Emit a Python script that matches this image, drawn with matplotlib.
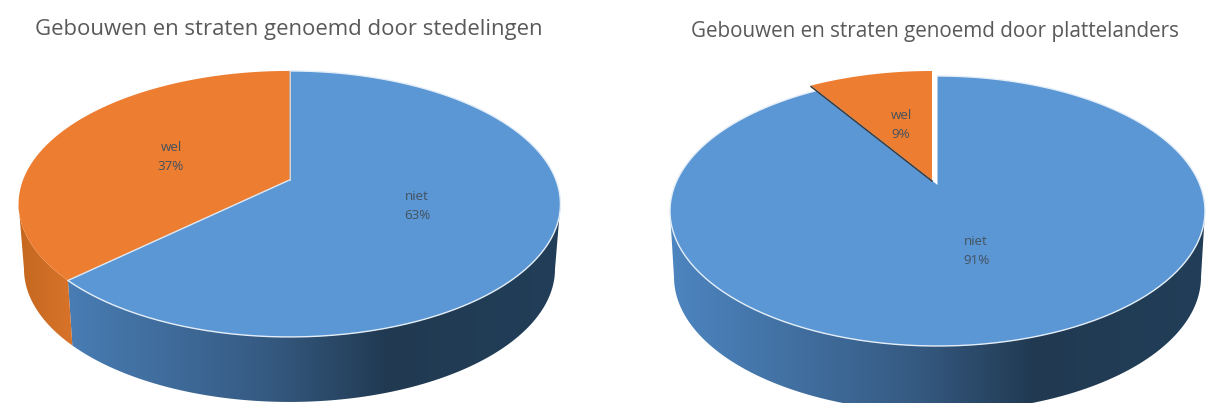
import numpy as np
import matplotlib
matplotlib.use('Agg')
import matplotlib.pyplot as plt
from matplotlib.colors import LinearSegmentedColormap
from matplotlib.patches import Polygon

# data
categories = ['niet', 'wel']
stad_values = [63, 37]
platteland_values = [91, 9]
stad_title = 'Gebouwen en straten genoemd door stedelingen'
platteland_title = 'Gebouwen en straten genoemd door plattelanders'

BLUE = '#5b97d5'
ORANGE = '#ed7d31'
TEXT = '#595959'
LABEL = '#44525f'

plt.rcParams['font.family'] = ['Open Sans', 'DejaVu Sans']

blue_wall = LinearSegmentedColormap.from_list(
    'blue_wall', [(0, '#4d85c0'), (0.45, '#365b83'), (0.68, '#213a52'), (1, '#223e58')])
orange_wall = LinearSegmentedColormap.from_list(
    'orange_wall', [(0, '#c4671f'), (1, '#d9742a')])


def project(t, cx, cy, a, b, k):
    # t in degrees, clockwise from the top of the pie; perspective tilt k
    u = np.sin(np.radians(t))
    v = np.cos(np.radians(t))
    w = 1 + k * v
    return cx + a * u / w, cy - b * v / w


def wall(ax, t0, t1, cmap, cx, cy, a, b, k, depth, shrink):
    t = np.linspace(t0, t1, 120)
    x_top, y_top = project(t, cx, cy, a, b, k)
    x_low, y_low = project(t, cx, cy + depth, a * shrink, b, k)
    pts = np.column_stack([np.r_[x_top, x_low[::-1]], np.r_[y_top, y_low[::-1]]])
    clip = Polygon(pts, transform=ax.transData)
    # horizontal gradient over the whole width of the pie
    grad = np.linspace(0, 1, 256).reshape(1, -1)
    half = a / np.sqrt(1 - k ** 2)
    if cmap is orange_wall:
        extent = [x_top.min() - 3, x_low.max() + 3, 410, 0]
    else:
        extent = [cx - half, cx + half, 410, 0]
    im = ax.imshow(grad, extent=extent, aspect='auto', cmap=cmap, zorder=1)
    im.set_clip_path(clip)


def draw_pie(ax, values, cx, cy, a, b, k, depth, shrink, offset=(0, 0)):
    edge = np.degrees(np.arccos(-k))
    split = values[0] / sum(values) * 360

    # side of the pie, only the front part can be seen
    if split > 360 - edge:
        wall(ax, edge, 360 - edge, blue_wall, cx, cy, a, b, k, depth, shrink)
    else:
        wall(ax, edge, split, blue_wall, cx, cy, a, b, k, depth, shrink)
        wall(ax, split, 360 - edge, orange_wall, cx, cy, a, b, k, depth, shrink)

    # top face
    t = np.linspace(0, split, 300)
    x, y = project(t, cx, cy, a, b, k)
    ax.fill(np.r_[cx, x], np.r_[cy, y], color=BLUE, lw=0, zorder=2)
    ax.plot(x, y, color='#e4eef8', lw=1.0, zorder=3)

    t = np.linspace(split, 360, 200)
    x, y = project(t, cx, cy, a, b, k)
    x = x + offset[0]
    y = y + offset[1]
    ox, oy = cx + offset[0], cy + offset[1]
    ax.fill(np.r_[ox, x], np.r_[oy, y], color=ORANGE, lw=0, zorder=4)

    sx, sy = project(split, cx, cy, a, b, k)
    if offset == (0, 0):
        ax.plot([cx, sx], [cy, sy], color='#dce9f5', lw=1.0, zorder=5)
        ax.plot([cx, cx], [cy, cy - b / (1 + k)], color='#f2e2d4', lw=0.6, zorder=5)
    else:
        # inner side of the pulled out slice
        ax.plot([ox, sx + offset[0]], [oy + 1, sy + offset[1] + 1], color='#3c3a38', lw=1.1, zorder=5)


def labels(ax, cats, values, places):
    for cat, val, (x, y) in zip(cats, values, places):
        ax.text(x, y, f'{cat}\n{val}%', ha='center', va='center', fontsize=9.6,
                color=LABEL, linespacing=1.6, zorder=6)


fig = plt.figure(figsize=(12.09, 4.03), dpi=100)
ax = fig.add_axes([0, 0, 1, 1])

draw_pie(ax, stad_values, 289.5, 180, 266.5, 128.7, 0.18, 65, 0.98)
draw_pie(ax, platteland_values, 937.5, 185, 262.5, 130, 0.1926, 66, 0.985, offset=(-5.5, -5))

labels(ax, categories, stad_values, [(417, 206), (171, 157)])
labels(ax, categories, platteland_values, [(976, 251), (901, 125)])

ax.text(289, 30, stad_title, ha='center', va='center', fontsize=15.9, color=TEXT)
ax.text(935, 31, platteland_title, ha='center', va='center', fontsize=14.9, color=TEXT)

ax.set_xlim(0, 1209)
ax.set_ylim(403, 0)
ax.axis('off')
fig.savefig('out.png', dpi=100, facecolor='white')
